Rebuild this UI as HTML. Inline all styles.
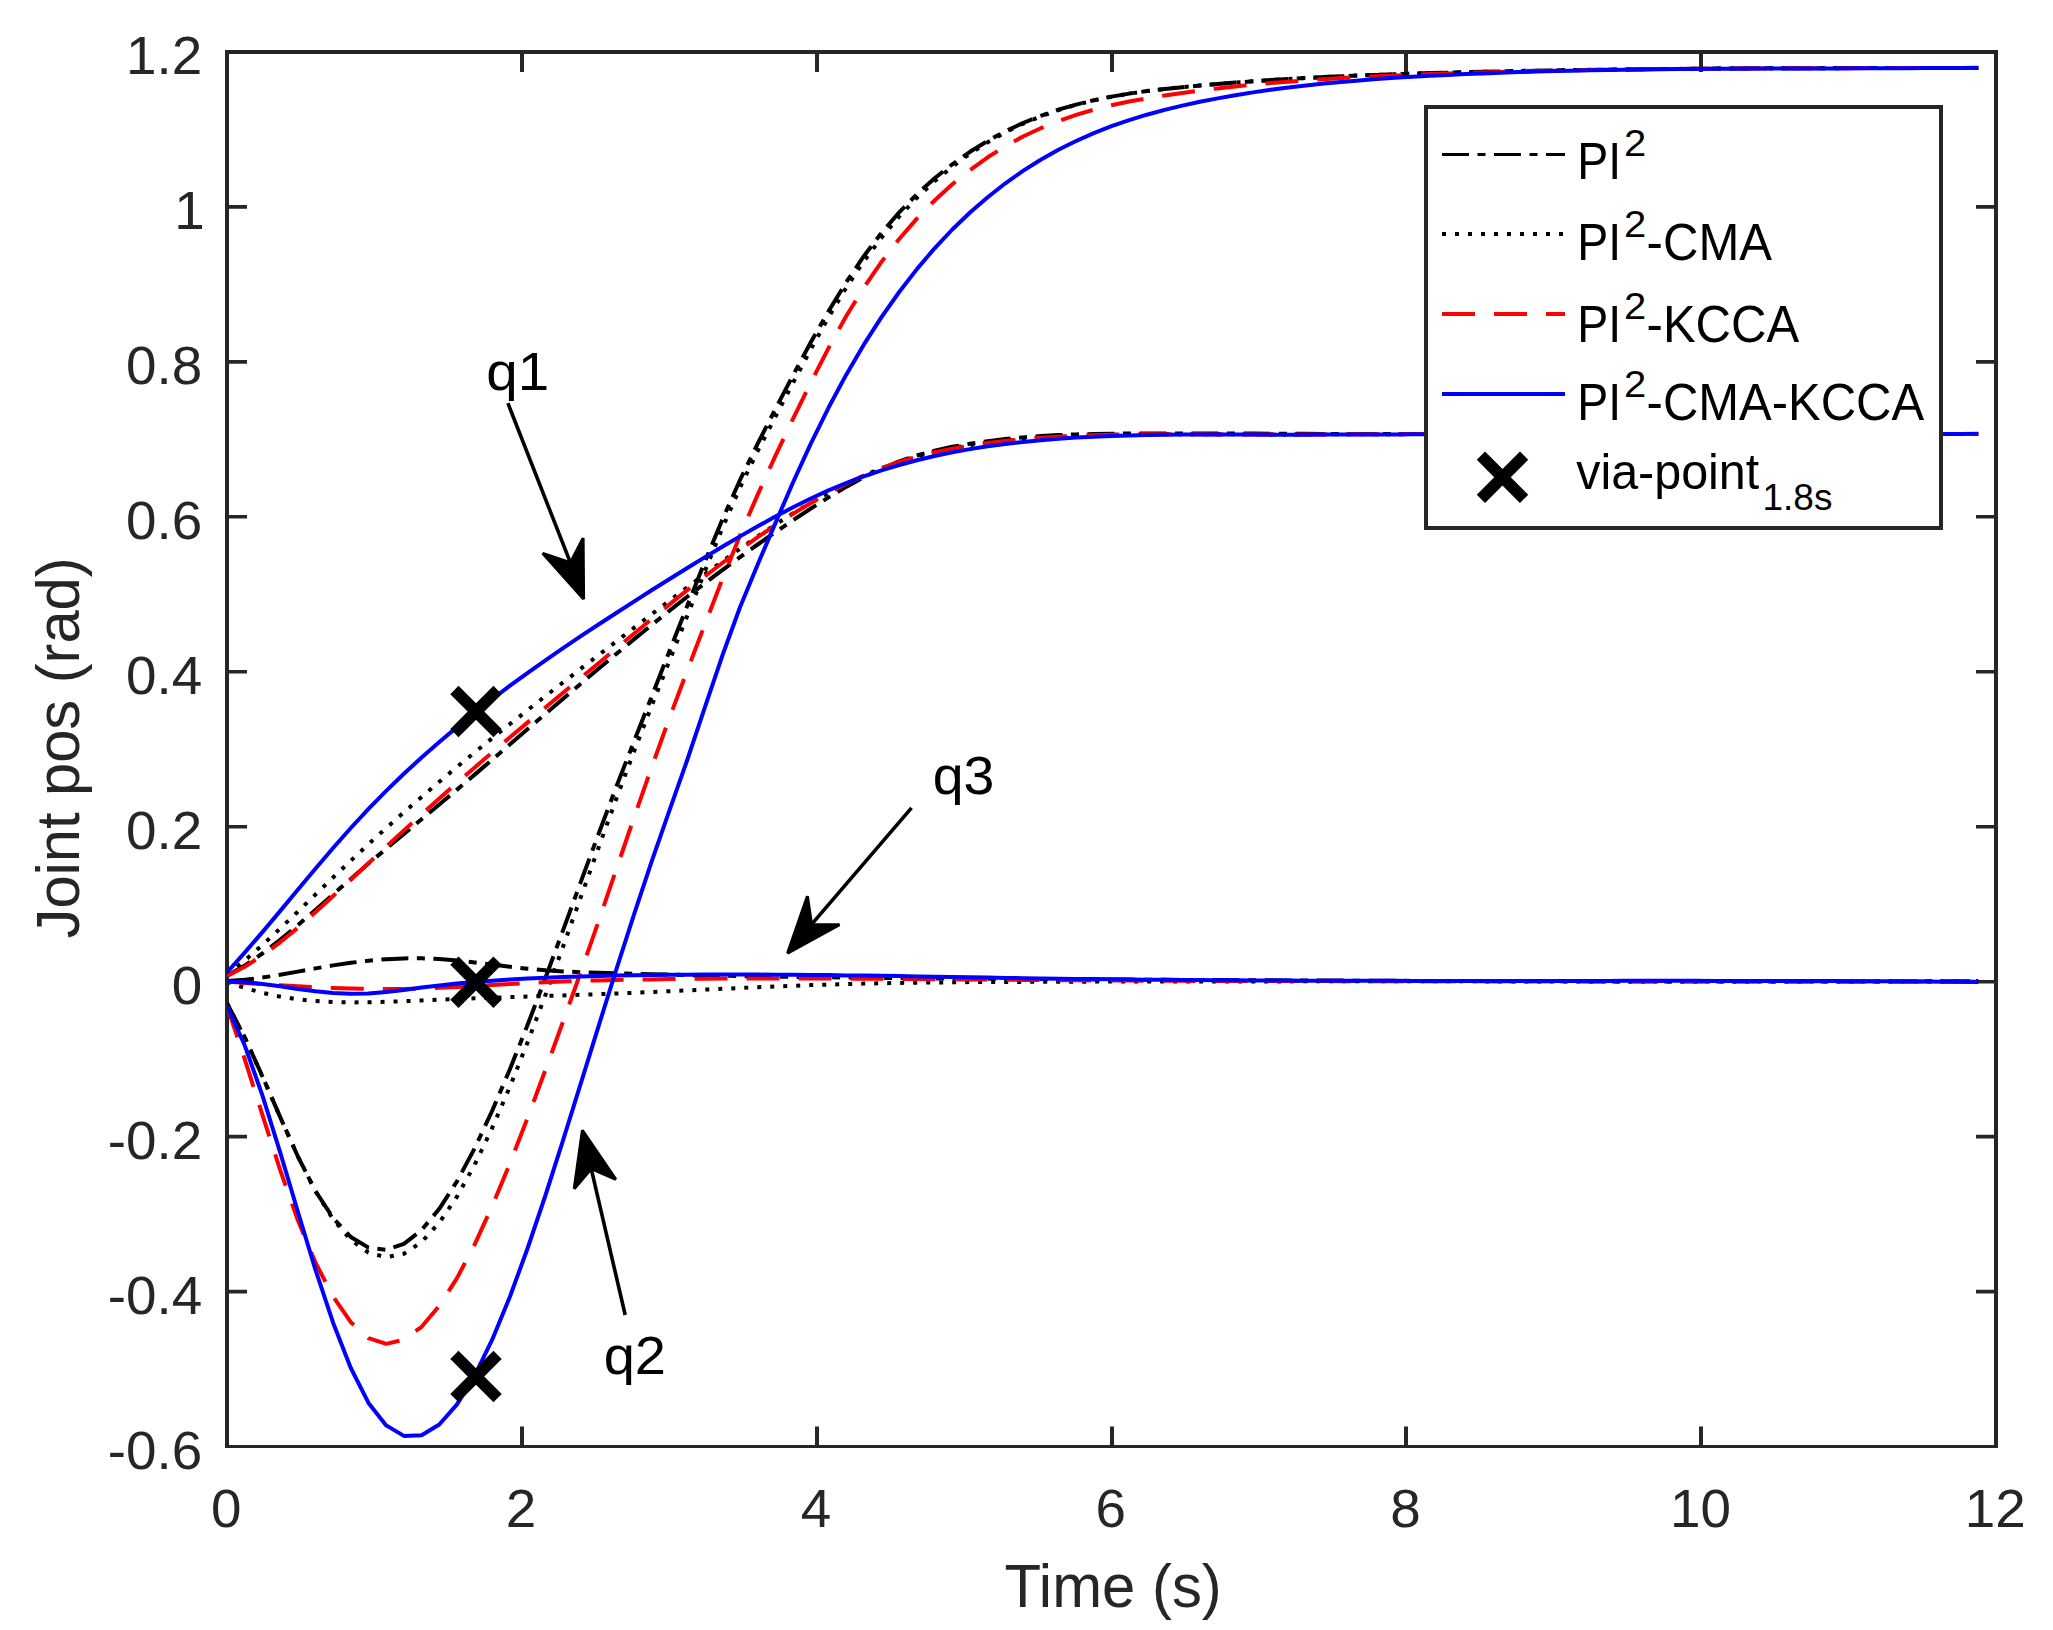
<!DOCTYPE html>
<html lang="en"><head><meta charset="utf-8"><title>Joint positions</title>
<style>html,body{margin:0;padding:0;background:#fff}svg{display:block}text{font-family:"Liberation Sans",Arial,Helvetica,sans-serif}.tk{fill:#262626;font-size:53px}.lb{fill:#262626;font-size:61.5px}.an{fill:#000;font-size:54.3px}.lg{fill:#000;font-size:51.7px}.ss{font-size:37.7px}.cv{fill:none;stroke-linejoin:round;stroke-linecap:butt}</style></head><body>
<svg width="2053" height="1630" viewBox="0 0 2053 1630">
<rect x="0" y="0" width="2053" height="1630" fill="#fff"/>
<g stroke="#262626" fill="none" stroke-linecap="butt">
<path stroke-width="4" d="M227.0 50.0V1448.0M1996.0 50.0V1448.0M225.0 52.0H1998.0"/>
<path stroke-width="3" d="M225.0 1446.5H1998.0"/>
<path stroke-width="4" d="M522.0 1446.5v-20.0M522.0 52.0v20.0M817.0 1446.5v-20.0M817.0 52.0v20.0M1112.0 1446.5v-20.0M1112.0 52.0v20.0M1406.0 1446.5v-20.0M1406.0 52.0v20.0M1701.0 1446.5v-20.0M1701.0 52.0v20.0"/>
<path stroke-width="3.6" d="M227.0 206.9h20.0M1996.0 206.9h-20.0M227.0 361.9h20.0M1996.0 361.9h-20.0M227.0 516.8h20.0M1996.0 516.8h-20.0M227.0 671.8h20.0M1996.0 671.8h-20.0M227.0 826.7h20.0M1996.0 826.7h-20.0M227.0 981.7h20.0M1996.0 981.7h-20.0M227.0 1136.6h20.0M1996.0 1136.6h-20.0M227.0 1291.6h20.0M1996.0 1291.6h-20.0"/>
</g>
<defs><clipPath id="cp"><rect x="227.0" y="52.0" width="1769.0" height="1394.5"/></clipPath></defs>
<g clip-path="url(#cp)">
<polyline class="cv" stroke-width="4.0" stroke="#000" stroke-dasharray="27 8.5 8 8.5" stroke-dashoffset="0.0" points="227.0,975.9 244.7,965.6 262.4,953.5 280.1,939.9 297.8,925.3 315.4,910.0 333.1,894.4 350.8,878.9 368.5,863.6 386.2,848.7 403.9,833.9 421.6,819.2 439.3,804.5 457.0,789.6 474.7,774.6 492.3,759.5 510.0,744.3 527.7,729.1 545.4,713.9 563.1,698.8 580.8,683.7 598.5,668.7 616.2,654.0 633.9,639.4 651.6,625.0 669.2,610.9 686.9,597.0 704.6,583.4 722.3,570.1 740.0,557.1 757.7,544.5 775.4,532.1 793.1,520.2 810.8,508.5 828.5,497.4 846.1,486.9 863.8,477.3 881.5,468.7 899.2,461.4 916.9,455.5 934.6,450.7 952.3,446.8 970.0,443.7 987.7,441.2 1005.4,439.1 1023.0,437.4 1040.7,436.1 1058.4,435.1 1076.1,434.4 1093.8,434.0 1111.5,433.7 1129.2,433.5 1146.9,433.5 1164.6,433.4 1182.3,433.5 1199.9,433.5 1217.6,433.5 1235.3,433.6 1253.0,433.6 1270.7,433.7 1288.4,433.8 1306.1,433.8 1323.8,433.9 1341.5,434.0 1359.2,434.0 1376.8,434.1 1394.5,434.1 1412.2,434.1 1429.9,434.1 1447.6,434.1 1465.3,434.1 1483.0,434.1 1500.7,434.1 1518.4,434.1 1536.1,434.1 1553.8,434.1 1571.4,434.1 1589.1,434.1 1606.8,434.1 1624.5,434.1 1642.2,434.0 1659.9,434.0 1677.6,434.0 1695.3,434.0 1713.0,434.0 1730.6,433.9 1748.3,433.9 1766.0,433.9 1783.7,433.9 1801.4,433.9 1819.1,433.9 1836.8,433.9 1854.5,433.9 1872.2,433.9 1889.9,433.9 1907.5,434.0 1925.2,434.0 1942.9,434.0 1960.6,434.1 1978.3,434.1"/>
<polyline class="cv" stroke-width="4.0" stroke="#000" stroke-dasharray="27 8.5 8 8.5" stroke-dashoffset="0.0" points="227.0,1003.2 244.7,1037.2 262.4,1076.2 280.1,1116.9 297.8,1156.3 315.4,1190.9 333.1,1218.1 350.8,1237.0 368.5,1247.6 386.2,1249.9 403.9,1243.9 421.6,1230.0 439.3,1208.8 457.0,1181.3 474.7,1148.2 492.3,1110.5 510.0,1069.0 527.7,1024.6 545.4,978.0 563.1,930.1 580.8,881.9 598.5,834.0 616.2,787.1 633.9,741.7 651.6,696.7 669.2,651.7 686.9,606.7 704.6,562.3 722.3,519.7 740.0,480.0 757.7,443.6 775.4,409.0 793.1,375.1 810.8,342.3 828.5,311.2 846.1,282.4 863.8,256.2 881.5,232.9 899.2,212.3 916.9,194.2 934.6,178.3 952.3,164.3 970.0,151.8 987.7,140.9 1005.4,131.3 1023.0,123.0 1040.7,115.8 1058.4,109.7 1076.1,104.6 1093.8,100.2 1111.5,96.6 1129.2,93.6 1146.9,91.1 1164.6,89.0 1182.3,87.2 1199.9,85.5 1217.6,84.0 1235.3,82.6 1253.0,81.3 1270.7,80.1 1288.4,79.0 1306.1,78.0 1323.8,77.1 1341.5,76.3 1359.2,75.5 1376.8,74.9 1394.5,74.2 1412.2,73.7 1429.9,73.1 1447.6,72.7 1465.3,72.2 1483.0,71.8 1500.7,71.4 1518.4,71.0 1536.1,70.7 1553.8,70.4 1571.4,70.1 1589.1,69.9 1606.8,69.6 1624.5,69.4 1642.2,69.2 1659.9,69.0 1677.6,68.9 1695.3,68.7 1713.0,68.6 1730.6,68.5 1748.3,68.4 1766.0,68.3 1783.7,68.3 1801.4,68.2 1819.1,68.2 1836.8,68.1 1854.5,68.1 1872.2,68.1 1889.9,68.1 1907.5,68.1 1925.2,68.1 1942.9,68.1 1960.6,68.1 1978.3,68.1"/>
<polyline class="cv" stroke-width="4.0" stroke="#000" stroke-dasharray="27 8.5 8 8.5" stroke-dashoffset="0.0" points="227.0,981.0 244.7,979.8 262.4,977.6 280.1,974.8 297.8,971.6 315.4,968.4 333.1,965.4 350.8,962.8 368.5,960.7 386.2,959.2 403.9,958.4 421.6,958.3 439.3,959.1 457.0,960.5 474.7,962.5 492.3,964.6 510.0,966.8 527.7,968.7 545.4,970.3 563.1,971.4 580.8,972.2 598.5,972.8 616.2,973.3 633.9,973.8 651.6,974.2 669.2,974.6 686.9,975.0 704.6,975.4 722.3,975.7 740.0,976.1 757.7,976.4 775.4,976.6 793.1,976.9 810.8,977.1 828.5,977.3 846.1,977.6 863.8,977.7 881.5,977.9 899.2,978.1 916.9,978.2 934.6,978.4 952.3,978.5 970.0,978.6 987.7,978.8 1005.4,978.9 1023.0,979.0 1040.7,979.1 1058.4,979.2 1076.1,979.3 1093.8,979.4 1111.5,979.5 1129.2,979.6 1146.9,979.7 1164.6,979.8 1182.3,979.9 1199.9,980.0 1217.6,980.1 1235.3,980.2 1253.0,980.2 1270.7,980.3 1288.4,980.4 1306.1,980.5 1323.8,980.6 1341.5,980.6 1359.2,980.7 1376.8,980.8 1394.5,980.8 1412.2,980.9 1429.9,981.0 1447.6,981.0 1465.3,981.1 1483.0,981.1 1500.7,981.2 1518.4,981.2 1536.1,981.3 1553.8,981.3 1571.4,981.3 1589.1,981.4 1606.8,981.4 1624.5,981.4 1642.2,981.5 1659.9,981.5 1677.6,981.5 1695.3,981.5 1713.0,981.5 1730.6,981.5 1748.3,981.5 1766.0,981.5 1783.7,981.5 1801.4,981.5 1819.1,981.5 1836.8,981.5 1854.5,981.4 1872.2,981.4 1889.9,981.4 1907.5,981.3 1925.2,981.3 1942.9,981.2 1960.6,981.2 1978.3,981.1"/>
<polyline class="cv" stroke-width="4.0" stroke="#000" stroke-dasharray="4 9" stroke-dashoffset="0.0" points="227.0,974.9 244.7,960.5 262.4,945.0 280.1,928.6 297.8,911.7 315.4,894.6 333.1,877.5 350.8,860.7 368.5,844.1 386.2,828.0 403.9,812.3 421.6,796.9 439.3,781.8 457.0,767.0 474.7,752.4 492.3,738.1 510.0,724.0 527.7,710.0 545.4,696.1 563.1,682.4 580.8,668.7 598.5,655.1 616.2,641.5 633.9,627.9 651.6,614.3 669.2,600.9 686.9,587.5 704.6,574.3 722.3,561.4 740.0,548.7 757.7,536.4 775.4,524.6 793.1,513.3 810.8,502.8 828.5,492.9 846.1,483.8 863.8,475.6 881.5,468.2 899.2,461.7 916.9,456.2 934.6,451.6 952.3,447.9 970.0,445.0 987.7,442.6 1005.4,440.8 1023.0,439.2 1040.7,438.0 1058.4,436.9 1076.1,436.1 1093.8,435.4 1111.5,434.9 1129.2,434.6 1146.9,434.4 1164.6,434.2 1182.3,434.2 1199.9,434.2 1217.6,434.2 1235.3,434.3 1253.0,434.3 1270.7,434.4 1288.4,434.4 1306.1,434.4 1323.8,434.3 1341.5,434.3 1359.2,434.3 1376.8,434.2 1394.5,434.2 1412.2,434.1 1429.9,434.1 1447.6,434.0 1465.3,434.0 1483.0,433.9 1500.7,433.9 1518.4,433.9 1536.1,433.9 1553.8,433.9 1571.4,433.9 1589.1,433.9 1606.8,433.9 1624.5,433.9 1642.2,433.9 1659.9,433.9 1677.6,434.0 1695.3,434.0 1713.0,434.0 1730.6,434.0 1748.3,434.0 1766.0,434.0 1783.7,434.1 1801.4,434.1 1819.1,434.1 1836.8,434.1 1854.5,434.1 1872.2,434.1 1889.9,434.1 1907.5,434.0 1925.2,434.0 1942.9,434.0 1960.6,433.9 1978.3,433.9"/>
<polyline class="cv" stroke-width="4.0" stroke="#000" stroke-dasharray="4 9" stroke-dashoffset="0.0" points="227.0,1003.2 244.7,1037.6 262.4,1076.5 280.1,1117.0 297.8,1156.2 315.4,1191.1 333.1,1219.3 350.8,1239.9 368.5,1252.6 386.2,1257.3 403.9,1253.8 421.6,1242.0 439.3,1222.7 457.0,1196.6 474.7,1164.7 492.3,1127.7 510.0,1086.5 527.7,1042.0 545.4,995.1 563.1,946.5 580.8,897.1 598.5,847.8 616.2,799.1 633.9,751.7 651.6,706.0 669.2,661.5 686.9,616.8 704.6,571.9 722.3,528.2 740.0,487.6 757.7,451.0 775.4,416.8 793.1,382.8 810.8,349.3 828.5,317.3 846.1,287.9 863.8,261.4 881.5,237.7 899.2,216.5 916.9,197.8 934.6,181.3 952.3,166.7 970.0,153.7 987.7,142.3 1005.4,132.4 1023.0,123.8 1040.7,116.4 1058.4,110.1 1076.1,104.8 1093.8,100.4 1111.5,96.7 1129.2,93.7 1146.9,91.1 1164.6,89.0 1182.3,87.2 1199.9,85.5 1217.6,84.0 1235.3,82.6 1253.0,81.3 1270.7,80.1 1288.4,79.0 1306.1,78.0 1323.8,77.1 1341.5,76.3 1359.2,75.5 1376.8,74.9 1394.5,74.2 1412.2,73.7 1429.9,73.1 1447.6,72.7 1465.3,72.2 1483.0,71.8 1500.7,71.4 1518.4,71.0 1536.1,70.7 1553.8,70.4 1571.4,70.1 1589.1,69.8 1606.8,69.6 1624.5,69.4 1642.2,69.2 1659.9,69.0 1677.6,68.9 1695.3,68.7 1713.0,68.6 1730.6,68.5 1748.3,68.4 1766.0,68.3 1783.7,68.3 1801.4,68.2 1819.1,68.2 1836.8,68.2 1854.5,68.1 1872.2,68.1 1889.9,68.1 1907.5,68.1 1925.2,68.1 1942.9,68.1 1960.6,68.1 1978.3,68.1"/>
<polyline class="cv" stroke-width="4.0" stroke="#000" stroke-dasharray="4 9" stroke-dashoffset="0.0" points="227.0,981.7 244.7,987.9 262.4,992.8 280.1,996.6 297.8,999.3 315.4,1001.0 333.1,1002.0 350.8,1002.4 368.5,1002.3 386.2,1001.8 403.9,1001.2 421.6,1000.4 439.3,999.6 457.0,999.0 474.7,998.3 492.3,997.7 510.0,997.1 527.7,996.6 545.4,996.0 563.1,995.4 580.8,994.8 598.5,994.2 616.2,993.5 633.9,992.8 651.6,992.0 669.2,991.2 686.9,990.4 704.6,989.6 722.3,988.8 740.0,988.0 757.7,987.2 775.4,986.5 793.1,985.8 810.8,985.1 828.5,984.6 846.1,984.1 863.8,983.6 881.5,983.3 899.2,982.9 916.9,982.7 934.6,982.5 952.3,982.3 970.0,982.1 987.7,982.0 1005.4,981.9 1023.0,981.9 1040.7,981.8 1058.4,981.7 1076.1,981.7 1093.8,981.6 1111.5,981.6 1129.2,981.6 1146.9,981.5 1164.6,981.5 1182.3,981.5 1199.9,981.4 1217.6,981.4 1235.3,981.4 1253.0,981.4 1270.7,981.4 1288.4,981.4 1306.1,981.3 1323.8,981.3 1341.5,981.3 1359.2,981.3 1376.8,981.3 1394.5,981.3 1412.2,981.3 1429.9,981.3 1447.6,981.3 1465.3,981.3 1483.0,981.4 1500.7,981.4 1518.4,981.4 1536.1,981.4 1553.8,981.4 1571.4,981.4 1589.1,981.4 1606.8,981.4 1624.5,981.4 1642.2,981.4 1659.9,981.4 1677.6,981.4 1695.3,981.4 1713.0,981.5 1730.6,981.5 1748.3,981.5 1766.0,981.5 1783.7,981.5 1801.4,981.5 1819.1,981.5 1836.8,981.4 1854.5,981.4 1872.2,981.4 1889.9,981.4 1907.5,981.4 1925.2,981.4 1942.9,981.4 1960.6,981.3 1978.3,981.3"/>
<polyline class="cv" stroke-width="4.0" stroke="#f00" stroke-dasharray="33 19" stroke-dashoffset="0.0" points="227.0,976.0 244.7,966.8 262.4,955.4 280.1,942.3 297.8,927.8 315.4,912.2 333.1,896.1 350.8,879.7 368.5,863.2 386.2,846.8 403.9,830.4 421.6,814.3 439.3,798.5 457.0,782.9 474.7,767.5 492.3,752.3 510.0,737.3 527.7,722.4 545.4,707.5 563.1,692.7 580.8,678.0 598.5,663.2 616.2,648.4 633.9,633.7 651.6,619.1 669.2,604.6 686.9,590.4 704.6,576.5 722.3,563.0 740.0,549.8 757.7,537.2 775.4,525.2 793.1,513.7 810.8,503.0 828.5,493.0 846.1,483.8 863.8,475.6 881.5,468.3 899.2,462.0 916.9,456.7 934.6,452.2 952.3,448.6 970.0,445.6 987.7,443.1 1005.4,441.0 1023.0,439.2 1040.7,437.8 1058.4,436.7 1076.1,435.8 1093.8,435.2 1111.5,434.7 1129.2,434.4 1146.9,434.3 1164.6,434.2 1182.3,434.3 1199.9,434.3 1217.6,434.4 1235.3,434.4 1253.0,434.4 1270.7,434.4 1288.4,434.4 1306.1,434.4 1323.8,434.4 1341.5,434.3 1359.2,434.3 1376.8,434.2 1394.5,434.2 1412.2,434.1 1429.9,434.1 1447.6,434.0 1465.3,434.0 1483.0,433.9 1500.7,433.9 1518.4,433.9 1536.1,433.9 1553.8,433.9 1571.4,433.9 1589.1,433.9 1606.8,433.9 1624.5,433.9 1642.2,433.9 1659.9,433.9 1677.6,434.0 1695.3,434.0 1713.0,434.0 1730.6,434.0 1748.3,434.0 1766.0,434.1 1783.7,434.1 1801.4,434.1 1819.1,434.1 1836.8,434.1 1854.5,434.1 1872.2,434.1 1889.9,434.1 1907.5,434.0 1925.2,434.0 1942.9,434.0 1960.6,433.9 1978.3,433.9"/>
<polyline class="cv" stroke-width="4.0" stroke="#f00" stroke-dasharray="33 19" stroke-dashoffset="0.0" points="227.0,1006.1 244.7,1059.0 262.4,1114.8 280.1,1169.8 297.8,1220.1 315.4,1262.4 333.1,1296.6 350.8,1322.2 368.5,1338.2 386.2,1343.9 403.9,1339.8 421.6,1326.8 439.3,1305.9 457.0,1278.1 474.7,1244.4 492.3,1205.8 510.0,1163.2 527.7,1117.6 545.4,1070.0 563.1,1021.4 580.8,972.0 598.5,921.5 616.2,869.6 633.9,817.9 651.6,767.4 669.2,718.6 686.9,671.5 704.6,625.1 722.3,579.3 740.0,535.5 757.7,494.6 775.4,455.8 793.1,418.6 810.8,382.5 828.5,348.1 846.1,316.3 863.8,287.6 881.5,261.9 899.2,239.0 916.9,218.6 934.6,200.5 952.3,184.3 970.0,170.0 987.7,157.3 1005.4,146.2 1023.0,136.5 1040.7,128.2 1058.4,121.0 1076.1,114.9 1093.8,109.7 1111.5,105.3 1129.2,101.5 1146.9,98.3 1164.6,95.5 1182.3,92.9 1199.9,90.6 1217.6,88.4 1235.3,86.5 1253.0,84.7 1270.7,83.1 1288.4,81.7 1306.1,80.3 1323.8,79.2 1341.5,78.1 1359.2,77.1 1376.8,76.3 1394.5,75.5 1412.2,74.8 1429.9,74.1 1447.6,73.5 1465.3,72.9 1483.0,72.4 1500.7,71.9 1518.4,71.5 1536.1,71.1 1553.8,70.7 1571.4,70.4 1589.1,70.0 1606.8,69.8 1624.5,69.5 1642.2,69.3 1659.9,69.1 1677.6,68.9 1695.3,68.8 1713.0,68.7 1730.6,68.6 1748.3,68.5 1766.0,68.4 1783.7,68.3 1801.4,68.3 1819.1,68.2 1836.8,68.2 1854.5,68.2 1872.2,68.1 1889.9,68.1 1907.5,68.1 1925.2,68.1 1942.9,68.1 1960.6,68.0 1978.3,68.0"/>
<polyline class="cv" stroke-width="4.0" stroke="#f00" stroke-dasharray="33 19" stroke-dashoffset="0.0" points="227.0,981.6 244.7,982.9 262.4,984.1 280.1,985.3 297.8,986.3 315.4,987.2 333.1,987.9 350.8,988.5 368.5,988.8 386.2,989.0 403.9,988.9 421.6,988.5 439.3,987.8 457.0,987.0 474.7,986.0 492.3,984.9 510.0,983.9 527.7,983.0 545.4,982.2 563.1,981.5 580.8,980.9 598.5,980.4 616.2,980.0 633.9,979.7 651.6,979.4 669.2,979.1 686.9,978.9 704.6,978.8 722.3,978.6 740.0,978.5 757.7,978.5 775.4,978.5 793.1,978.5 810.8,978.5 828.5,978.5 846.1,978.6 863.8,978.7 881.5,978.8 899.2,978.9 916.9,979.0 934.6,979.2 952.3,979.3 970.0,979.5 987.7,979.6 1005.4,979.8 1023.0,979.9 1040.7,980.0 1058.4,980.2 1076.1,980.3 1093.8,980.4 1111.5,980.5 1129.2,980.6 1146.9,980.7 1164.6,980.8 1182.3,980.8 1199.9,980.9 1217.6,980.9 1235.3,981.0 1253.0,981.0 1270.7,981.1 1288.4,981.1 1306.1,981.1 1323.8,981.1 1341.5,981.2 1359.2,981.2 1376.8,981.2 1394.5,981.2 1412.2,981.2 1429.9,981.2 1447.6,981.2 1465.3,981.2 1483.0,981.2 1500.7,981.2 1518.4,981.2 1536.1,981.1 1553.8,981.1 1571.4,981.1 1589.1,981.1 1606.8,981.1 1624.5,981.1 1642.2,981.1 1659.9,981.1 1677.6,981.1 1695.3,981.1 1713.0,981.1 1730.6,981.1 1748.3,981.1 1766.0,981.1 1783.7,981.2 1801.4,981.2 1819.1,981.2 1836.8,981.2 1854.5,981.3 1872.2,981.3 1889.9,981.4 1907.5,981.4 1925.2,981.5 1942.9,981.6 1960.6,981.7 1978.3,981.8"/>
<polyline class="cv" stroke-width="4.0" stroke="#00f" points="227.0,972.5 244.7,952.7 262.4,932.1 280.1,911.1 297.8,889.8 315.4,868.7 333.1,848.0 350.8,828.0 368.5,808.9 386.2,790.9 403.9,773.8 421.6,757.5 439.3,742.0 457.0,727.1 474.7,712.8 492.3,699.0 510.0,685.7 527.7,672.8 545.4,660.3 563.1,648.2 580.8,636.2 598.5,624.5 616.2,613.0 633.9,601.6 651.6,590.3 669.2,579.2 686.9,568.2 704.6,557.4 722.3,546.8 740.0,536.4 757.7,526.3 775.4,516.6 793.1,507.3 810.8,498.5 828.5,490.4 846.1,483.0 863.8,476.3 881.5,470.3 899.2,465.0 916.9,460.2 934.6,456.0 952.3,452.3 970.0,449.1 987.7,446.3 1005.4,444.0 1023.0,441.9 1040.7,440.2 1058.4,438.8 1076.1,437.6 1093.8,436.7 1111.5,436.0 1129.2,435.4 1146.9,435.0 1164.6,434.8 1182.3,434.6 1199.9,434.5 1217.6,434.5 1235.3,434.6 1253.0,434.6 1270.7,434.7 1288.4,434.7 1306.1,434.7 1323.8,434.6 1341.5,434.6 1359.2,434.5 1376.8,434.5 1394.5,434.4 1412.2,434.3 1429.9,434.2 1447.6,434.1 1465.3,434.0 1483.0,434.0 1500.7,433.9 1518.4,433.9 1536.1,433.8 1553.8,433.8 1571.4,433.8 1589.1,433.8 1606.8,433.8 1624.5,433.8 1642.2,433.8 1659.9,433.9 1677.6,433.9 1695.3,433.9 1713.0,434.0 1730.6,434.0 1748.3,434.0 1766.0,434.1 1783.7,434.1 1801.4,434.1 1819.1,434.1 1836.8,434.1 1854.5,434.1 1872.2,434.1 1889.9,434.1 1907.5,434.1 1925.2,434.0 1942.9,434.0 1960.6,433.9 1978.3,433.8"/>
<polyline class="cv" stroke-width="4.0" stroke="#00f" points="227.0,1006.0 244.7,1045.3 262.4,1095.4 280.1,1152.1 297.8,1211.5 315.4,1269.6 333.1,1322.7 350.8,1368.0 368.5,1402.9 386.2,1425.4 403.9,1435.9 421.6,1435.3 439.3,1424.5 457.0,1404.4 474.7,1375.7 492.3,1339.4 510.0,1296.5 527.7,1248.0 545.4,1195.5 563.1,1140.1 580.8,1083.3 598.5,1026.3 616.2,969.9 633.9,914.8 651.6,861.6 669.2,811.1 686.9,761.0 704.6,708.2 722.3,655.8 740.0,607.3 757.7,564.4 775.4,523.1 793.1,482.3 810.8,443.6 828.5,407.8 846.1,374.9 863.8,344.7 881.5,317.1 899.2,292.0 916.9,269.1 934.6,248.3 952.3,229.5 970.0,212.5 987.7,197.2 1005.4,183.3 1023.0,170.9 1040.7,159.8 1058.4,149.8 1076.1,141.0 1093.8,133.1 1111.5,126.2 1129.2,120.1 1146.9,114.7 1164.6,109.9 1182.3,105.6 1199.9,101.8 1217.6,98.4 1235.3,95.3 1253.0,92.4 1270.7,89.8 1288.4,87.5 1306.1,85.4 1323.8,83.5 1341.5,81.9 1359.2,80.4 1376.8,79.0 1394.5,77.8 1412.2,76.8 1429.9,75.8 1447.6,74.9 1465.3,74.1 1483.0,73.4 1500.7,72.7 1518.4,72.1 1536.1,71.6 1553.8,71.1 1571.4,70.7 1589.1,70.3 1606.8,70.0 1624.5,69.7 1642.2,69.5 1659.9,69.2 1677.6,69.1 1695.3,68.9 1713.0,68.8 1730.6,68.7 1748.3,68.6 1766.0,68.5 1783.7,68.5 1801.4,68.5 1819.1,68.4 1836.8,68.4 1854.5,68.3 1872.2,68.3 1889.9,68.2 1907.5,68.2 1925.2,68.1 1942.9,68.0 1960.6,67.9 1978.3,67.7"/>
<polyline class="cv" stroke-width="4.0" stroke="#00f" points="227.0,981.6 244.7,982.2 262.4,983.9 280.1,986.3 297.8,988.9 315.4,991.2 333.1,992.9 350.8,993.7 368.5,993.4 386.2,992.0 403.9,990.0 421.6,987.6 439.3,985.5 457.0,983.6 474.7,982.0 492.3,980.7 510.0,979.5 527.7,978.5 545.4,977.7 563.1,977.1 580.8,976.5 598.5,976.0 616.2,975.6 633.9,975.3 651.6,975.0 669.2,974.8 686.9,974.7 704.6,974.6 722.3,974.5 740.0,974.5 757.7,974.6 775.4,974.7 793.1,974.8 810.8,974.9 828.5,975.1 846.1,975.4 863.8,975.6 881.5,975.8 899.2,976.1 916.9,976.4 934.6,976.7 952.3,977.0 970.0,977.3 987.7,977.6 1005.4,977.9 1023.0,978.2 1040.7,978.4 1058.4,978.7 1076.1,978.9 1093.8,979.1 1111.5,979.3 1129.2,979.5 1146.9,979.7 1164.6,979.8 1182.3,980.0 1199.9,980.1 1217.6,980.2 1235.3,980.3 1253.0,980.4 1270.7,980.5 1288.4,980.6 1306.1,980.7 1323.8,980.7 1341.5,980.8 1359.2,980.8 1376.8,980.8 1394.5,980.8 1412.2,980.9 1429.9,980.9 1447.6,980.9 1465.3,980.9 1483.0,980.9 1500.7,980.9 1518.4,980.9 1536.1,980.9 1553.8,980.9 1571.4,980.9 1589.1,980.9 1606.8,980.9 1624.5,980.8 1642.2,980.8 1659.9,980.8 1677.6,980.8 1695.3,980.8 1713.0,980.9 1730.6,980.9 1748.3,980.9 1766.0,980.9 1783.7,981.0 1801.4,981.0 1819.1,981.0 1836.8,981.1 1854.5,981.2 1872.2,981.2 1889.9,981.3 1907.5,981.4 1925.2,981.5 1942.9,981.7 1960.6,981.8 1978.3,981.9"/>
</g>
<path d="M454.4 690.0L497.6 733.2M454.4 733.2L497.6 690.0" stroke="#000" stroke-width="11.7" fill="none"/>
<path d="M454.4 960.6L497.6 1003.8M454.4 1003.8L497.6 960.6" stroke="#000" stroke-width="11.7" fill="none"/>
<path d="M454.4 1354.9L497.6 1398.1M454.4 1398.1L497.6 1354.9" stroke="#000" stroke-width="11.7" fill="none"/>
<text class="tk" transform="translate(226.2 1527.0) scale(1.035 1)" text-anchor="middle">0</text>
<text class="tk" transform="translate(521.0 1527.0) scale(1.035 1)" text-anchor="middle">2</text>
<text class="tk" transform="translate(815.9 1527.0) scale(1.035 1)" text-anchor="middle">4</text>
<text class="tk" transform="translate(1110.7 1527.0) scale(1.035 1)" text-anchor="middle">6</text>
<text class="tk" transform="translate(1405.5 1527.0) scale(1.035 1)" text-anchor="middle">8</text>
<text class="tk" transform="translate(1700.4 1527.0) scale(1.035 1)" text-anchor="middle">10</text>
<text class="tk" transform="translate(1995.2 1527.0) scale(1.035 1)" text-anchor="middle">12</text>
<text class="tk" transform="translate(202.3 74.3) scale(1.035 1)" text-anchor="end">1.2</text>
<text class="tk" transform="translate(204.8 229.2) scale(1.035 1)" text-anchor="end">1</text>
<text class="tk" transform="translate(202.3 384.2) scale(1.035 1)" text-anchor="end">0.8</text>
<text class="tk" transform="translate(202.3 539.1) scale(1.035 1)" text-anchor="end">0.6</text>
<text class="tk" transform="translate(202.3 694.1) scale(1.035 1)" text-anchor="end">0.4</text>
<text class="tk" transform="translate(202.3 849.0) scale(1.035 1)" text-anchor="end">0.2</text>
<text class="tk" transform="translate(202.3 1004.0) scale(1.035 1)" text-anchor="end">0</text>
<text class="tk" transform="translate(202.3 1158.9) scale(1.035 1)" text-anchor="end">-0.2</text>
<text class="tk" transform="translate(202.3 1313.9) scale(1.035 1)" text-anchor="end">-0.4</text>
<text class="tk" transform="translate(202.3 1468.8) scale(1.035 1)" text-anchor="end">-0.6</text>
<text class="lb" style="font-size:61.50px" transform="translate(1004.50 1607.00) scale(0.9738 1)">Time (s)</text>
<text class="lb" transform="translate(78.50 938.39) rotate(-90) scale(0.9694 1)">Joint pos (rad)</text>
<path d="M507.9 403.2L570.4 562.7" stroke="#000" stroke-width="3.6" fill="none"/><path d="M583.6 598.9L542.7 553.3L570.4 562.7L583.1 538.1Z" fill="#000" stroke="#000" stroke-width="3" stroke-linejoin="bevel"/>
<path d="M625.2 1315.0L591.2 1168.7" stroke="#000" stroke-width="3.6" fill="none"/><path d="M582.4 1130.3L574.2 1188.7L591.2 1168.7L615.8 1179.4Z" fill="#000" stroke="#000" stroke-width="3" stroke-linejoin="bevel"/>
<path d="M911.5 807.8L811.6 924.4" stroke="#000" stroke-width="3.6" fill="none"/><path d="M787.6 953.2L807.4 896.2L811.6 924.4L839.5 924.7Z" fill="#000" stroke="#000" stroke-width="3" stroke-linejoin="bevel"/>
<text class="an" style="font-size:54.30px" transform="translate(486.34 389.90) scale(1.0421 1)">q1</text>
<text class="an" style="font-size:54.30px" transform="translate(603.66 1374.00) scale(1.0328 1)">q2</text>
<text class="an" style="font-size:54.30px" transform="translate(932.68 793.80) scale(1.0227 1)">q3</text>
<rect x="1426.0" y="107.0" width="515.0" height="421.0" fill="#fff" stroke="#262626" stroke-width="4"/>
<path class="cv" stroke-width="3" stroke="#000" stroke-dasharray="27 8.5 8 8.5" d="M1442.0 154.5H1565.0"/>
<g><text class="lg" style="font-size:51.70px" transform="translate(1577.28 179.00) scale(0.8985 1)">PI</text><text class="lg" style="font-size:37.70px" transform="translate(1624.00 155.90) scale(1.0610 1)">2</text></g>
<path class="cv" stroke-width="4" stroke="#000" stroke-dasharray="4 9" d="M1442.0 234.0H1565.0"/>
<g><text class="lg" style="font-size:51.70px" transform="translate(1577.28 259.60) scale(0.8985 1)">PI</text><text class="lg" style="font-size:37.70px" transform="translate(1624.00 236.50) scale(1.0610 1)">2</text><text class="lg" style="font-size:51.70px" transform="translate(1646.59 259.60) scale(0.9497 1)">-CMA</text></g>
<path class="cv" stroke-width="4" stroke="#f00" stroke-dasharray="33 19" d="M1442.0 314.0H1565.0"/>
<g><text class="lg" style="font-size:51.70px" transform="translate(1577.28 341.80) scale(0.8985 1)">PI</text><text class="lg" style="font-size:37.70px" transform="translate(1624.00 318.70) scale(1.0610 1)">2</text><text class="lg" style="font-size:51.70px" transform="translate(1646.59 341.80) scale(0.9488 1)">-KCCA</text></g>
<path class="cv" stroke-width="4" stroke="#00f" d="M1442.0 394.0H1565.0"/>
<g><text class="lg" style="font-size:51.70px" transform="translate(1577.28 419.70) scale(0.8985 1)">PI</text><text class="lg" style="font-size:37.70px" transform="translate(1624.00 396.60) scale(1.0610 1)">2</text><text class="lg" style="font-size:51.70px" transform="translate(1646.60 419.70) scale(0.9475 1)">-CMA-KCCA</text></g>
<path d="M1480.9 455.6L1524.1 498.8M1480.9 498.8L1524.1 455.6" stroke="#000" stroke-width="11.7" fill="none"/>
<g><text class="lg" style="font-size:50.00px" transform="translate(1576.16 488.70) scale(0.9687 1)">via-point</text><text class="lg" style="font-size:37.70px" transform="translate(1762.53 510.40) scale(0.9805 1)">1.8s</text></g>
</svg></body></html>
